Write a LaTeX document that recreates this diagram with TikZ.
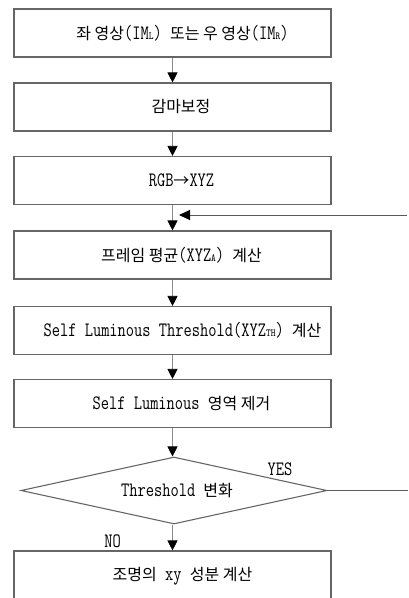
\documentclass[tikz,border=0pt]{standalone}
\usepackage{fontspec}
\newfontfamily\kr{Noto Sans CJK KR}
\usetikzlibrary{arrows.meta,shapes.geometric}
\newcommand{\lowsub}[1]{\scalebox{1}[1.2]{\fontsize{9pt}{9pt}\selectfont #1}}
\newcommand{\lt}[1]{\scalebox{1}[1.28]{#1}}
\definecolor{boxline}{HTML}{666666}
\definecolor{conline}{HTML}{8A8A8A}
\definecolor{fbline}{HTML}{5A5A5A}
\tikzset{
  stepbox/.style={draw=boxline, line width=1.1pt, minimum width=317pt, minimum height=48pt, inner sep=0pt, font=\ttfamily\fontsize{16pt}{18pt}\selectfont},
  decbox/.style={draw=boxline, line width=1.1pt, shape=diamond, aspect=4.55, minimum width=306pt, minimum height=67pt, inner sep=0pt, font=\ttfamily\fontsize{16pt}{18pt}\selectfont},
  flow/.style={draw=conline, line width=0.7pt, -{Triangle[width=10pt,length=10pt,color=black]}},
  fbflow/.style={draw=fbline, line width=1pt},
  lbl/.style={font=\ttfamily\fontsize{16pt}{18pt}\selectfont, inner sep=0pt}
}
\begin{document}
\begin{tikzpicture}[x=1pt,y=-1pt]
\useasboundingbox (0,0) rectangle (408,598);
\node[stepbox] (b1) at (172.5,33) {\hspace*{20pt}{\kr 좌 영상}\lt{(IM}\lowsub{L}\lt{)} {\kr 또는 우 영상}\lt{(IM}\lowsub{R}\lt{)}};
\node[stepbox] (b2) at (172.5,107) {\hspace*{17pt}{\kr 감마보정}};
\node[stepbox] (b3) at (172.5,180.5) {\hspace*{18pt}\lt{RGB}{\kr →}\lt{XYZ}};
\node[stepbox] (b4) at (172.5,255) {\hspace*{18pt}{\kr 프레임 평균}\lt{(XYZ}\lowsub{A}\lt{)} {\kr 계산}};
\node[stepbox] (b5) at (172.5,330.5) {\hspace*{20pt}\lt{Self Luminous Threshold(XYZ}\lowsub{TH}\lt{)} {\kr 계산}};
\node[stepbox] (b6) at (172.5,403.5) {\hspace*{18pt}\lt{Self Luminous} {\kr 영역 제거}};
\node[decbox] (d1) at (174,490.5) {\hspace*{6pt}\lt{Threshold} {\kr 변화}};
\node[stepbox, minimum height=51pt] (b7) at (172.5,576.5) {\hspace*{20pt}{\kr 조명의} \lt{xy} {\kr 성분 계산}};
\node[lbl] (yes) at (280,469) {\lt{YES}};
\node[lbl] (no) at (112.5,541) {\lt{NO}};
\coordinate (fbin) at (407,215);
\coordinate (fbtip) at (179,215);
\coordinate (yesout) at (408,490.5);
\draw[flow] (b1.south) -- (b2.north);
\draw[flow] (b2.south) -- (b3.north);
\draw[flow] (b3.south) -- (b4.north);
\draw[flow] (b4.south) -- (b5.north);
\draw[flow] (b5.south) -- (b6.north);
\draw[flow] (b6.south) -- (b6.south |- d1.north);
\draw[flow] (b7.north |- d1.south) -- (b7.north);
\draw[fbflow, -{Triangle[width=10pt,length=11pt,color=black]}] (fbin) -- (fbtip);
\draw[fbflow] (d1.east) -- (yesout);
\end{tikzpicture}
\end{document}
